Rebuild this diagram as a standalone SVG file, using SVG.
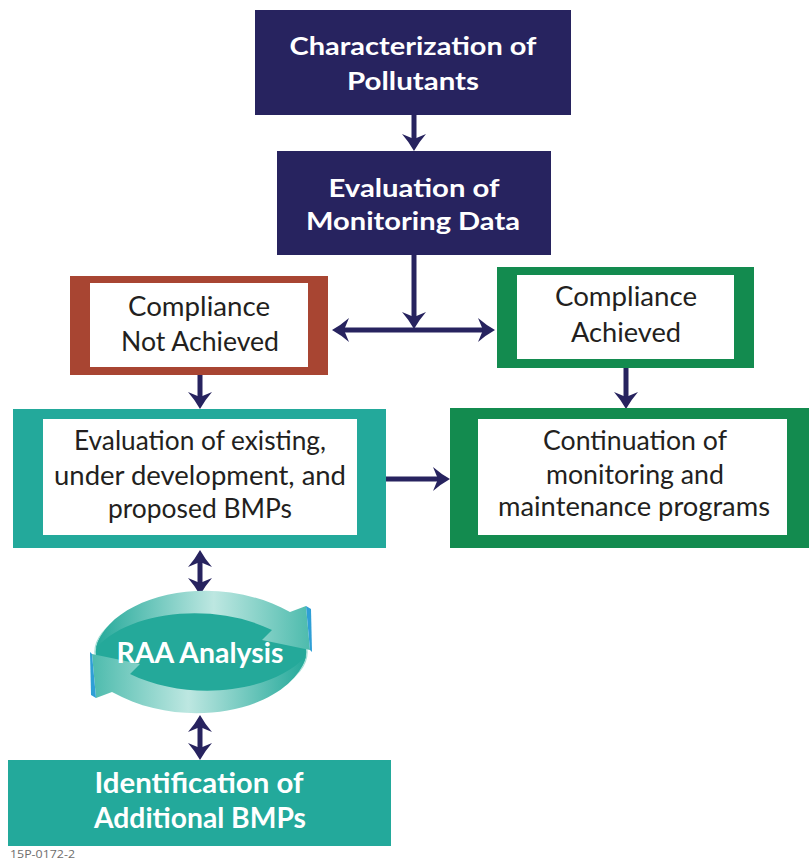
<svg xmlns="http://www.w3.org/2000/svg" width="809" height="863" viewBox="0 0 809 863">
  <style>
    .navy { fill: #27235f; }
    .title { font-family: Lato, "Liberation Sans", sans-serif; font-weight: bold; font-size: 24px; fill: #ffffff; text-anchor: middle; }
    .big { font-family: Lato, "Liberation Sans", sans-serif; font-weight: bold; font-size: 28px; fill: #ffffff; text-anchor: middle; }
    .body { font-family: Lato, "Liberation Sans", sans-serif; font-size: 26px; fill: #231f20; text-anchor: middle; }
    .conn { fill: none; stroke: #27235f; stroke-width: 5; }
    .note { font-family: "Open Sans", "Liberation Sans", sans-serif; font-size: 11px; fill: #6d6d6d; }
  </style>
  <defs>
    <marker id="ah" markerUnits="userSpaceOnUse" markerWidth="20" markerHeight="26" refX="6" refY="12" orient="auto-start-reverse" overflow="visible">
      <path d="M17,12 Q8,7 0,0 L5,12 L0,24 Q8,17 17,12 Z" fill="#27235f"/>
    </marker>
    <linearGradient id="gTop" gradientUnits="userSpaceOnUse" x1="96" y1="0" x2="310" y2="0">
      <stop offset="0" stop-color="#24a99a"/>
      <stop offset="0.55" stop-color="#bde7e1"/>
      <stop offset="1" stop-color="#4dbbad"/>
    </linearGradient>
    <linearGradient id="gBot" gradientUnits="userSpaceOnUse" x1="306" y1="0" x2="92" y2="0">
      <stop offset="0" stop-color="#24a99a"/>
      <stop offset="0.55" stop-color="#bde7e1"/>
      <stop offset="1" stop-color="#4dbbad"/>
    </linearGradient>
  </defs>

  <g id="connectors">
    <path class="conn" d="M414,115 V140" marker-end="url(#ah)"/>
    <path class="conn" d="M414,255 V318" marker-end="url(#ah)"/>
    <path class="conn" d="M343,330 H484" marker-start="url(#ah)" marker-end="url(#ah)"/>
    <path class="conn" d="M200,375 V398" marker-end="url(#ah)"/>
    <path class="conn" d="M626,368 V398" marker-end="url(#ah)"/>
    <path class="conn" d="M386,479 H439" marker-end="url(#ah)"/>
    <path class="conn" d="M200,561 V584" marker-start="url(#ah)" marker-end="url(#ah)"/>
    <path class="conn" d="M200,726 V749" marker-start="url(#ah)" marker-end="url(#ah)"/>
  </g>

  <g id="characterization">
    <rect class="navy" x="255" y="10" width="316" height="105"/>
    <text class="title" x="413" y="55" textLength="247" lengthAdjust="spacingAndGlyphs">Characterization of</text>
    <text class="title" x="413" y="90" textLength="132" lengthAdjust="spacingAndGlyphs">Pollutants</text>
  </g>

  <g id="evaluation-monitoring">
    <rect class="navy" x="277" y="151" width="274" height="104"/>
    <text class="title" x="414" y="197" textLength="171" lengthAdjust="spacingAndGlyphs">Evaluation of</text>
    <text class="title" x="413" y="230" textLength="214" lengthAdjust="spacingAndGlyphs">Monitoring Data</text>
  </g>

  <g id="compliance-not-achieved">
    <rect x="70" y="276" width="258" height="99" fill="#a84532"/>
    <rect x="90" y="283" width="218" height="84" fill="#ffffff"/>
    <text class="body" x="199" y="316" textLength="142" lengthAdjust="spacingAndGlyphs">Compliance</text>
    <text class="body" x="200" y="351" textLength="158" lengthAdjust="spacingAndGlyphs">Not Achieved</text>
  </g>

  <g id="compliance-achieved">
    <rect x="497" y="267" width="257" height="101" fill="#138b4f"/>
    <rect x="517" y="275" width="217" height="84" fill="#ffffff"/>
    <text class="body" x="626" y="306" textLength="142" lengthAdjust="spacingAndGlyphs">Compliance</text>
    <text class="body" x="626" y="342" textLength="110" lengthAdjust="spacingAndGlyphs">Achieved</text>
  </g>

  <g id="evaluation-bmps">
    <rect x="13" y="409" width="373" height="139" fill="#23a99b"/>
    <rect x="43" y="419" width="314" height="116" fill="#ffffff"/>
    <text class="body" x="200" y="450" textLength="252" lengthAdjust="spacingAndGlyphs">Evaluation of existing,</text>
    <text class="body" x="200" y="485" textLength="292" lengthAdjust="spacingAndGlyphs">under development, and</text>
    <text class="body" x="200" y="518" textLength="184" lengthAdjust="spacingAndGlyphs">proposed BMPs</text>
  </g>

  <g id="continuation">
    <rect x="450" y="408" width="359" height="140" fill="#138b4f"/>
    <rect x="478" y="419" width="309" height="116" fill="#ffffff"/>
    <text class="body" x="635" y="450" textLength="184" lengthAdjust="spacingAndGlyphs">Continuation of</text>
    <text class="body" x="635" y="484" textLength="178" lengthAdjust="spacingAndGlyphs">monitoring and</text>
    <text class="body" x="634" y="516" textLength="272" lengthAdjust="spacingAndGlyphs">maintenance programs</text>
  </g>

  <g id="raa-analysis">
    <ellipse cx="201" cy="652" rx="106" ry="52" fill="#24a99a" stroke="#a9e0d8" stroke-width="1.5"/>
    <path d="M96,648 C110,595 215,570 290,612 L306,606 L310,650 L262,640 L272,630 C215,602 130,610 96,648 Z" fill="url(#gTop)"/>
    <path d="M306,656 C292,709 187,734 112,692 L96,698 L92,654 L140,664 L130,674 C187,702 272,694 306,656 Z" fill="url(#gBot)"/>
    <path d="M306,606 L311,609 L312,652 L310,650 Z" fill="#2f9fd6"/>
    <path d="M96,698 L91,695 L90,652 L92,654 Z" fill="#2f9fd6"/>
    <text class="big" x="200" y="663" textLength="167" lengthAdjust="spacingAndGlyphs">RAA Analysis</text>
  </g>

  <g id="identification">
    <rect x="8" y="760" width="383" height="86" fill="#23a99b"/>
    <text class="big" x="199" y="793" textLength="209" lengthAdjust="spacingAndGlyphs">Identification of</text>
    <text class="big" x="200" y="828" textLength="212" lengthAdjust="spacingAndGlyphs">Additional BMPs</text>
  </g>

  <text class="note" x="10" y="858" textLength="65" lengthAdjust="spacingAndGlyphs">15P-0172-2</text>
</svg>
